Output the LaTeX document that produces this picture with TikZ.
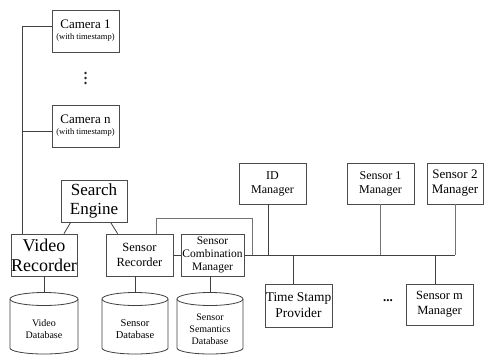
\documentclass[tikz,border=0pt]{standalone}
\usepackage{fontspec}
\setmainfont{Liberation Serif}
\usetikzlibrary{calc}
\tikzset{
  box/.style={draw=black!70, line width=0.8pt, fill=white, align=center,
              inner sep=0pt, minimum width=67pt, minimum height=42pt},
  wire/.style={draw=black!75, line width=0.8pt},
  faint/.style={draw=black!55, line width=0.8pt},
  dbtext/.style={align=center, inner sep=0pt},
  dotmark/.style={circle, fill=black!85, inner sep=0pt, minimum size=2.6pt},
}
% database drum: centre x, half width
\newcommand\dbdrum[2]{%
  \begin{scope}[shift={(#1,0)}]
    \filldraw[draw=black!75, fill=white, line width=0.8pt]
      (-#2,299) -- (-#2,348) arc[start angle=180, end angle=0, x radius=#2, y radius=6]
      -- (#2,299);
    \filldraw[draw=black!75, fill=white, line width=0.8pt]
      (0,299) ellipse[x radius=#2, y radius=6.5];
  \end{scope}}
\begin{document}
\begin{tikzpicture}[x=1pt, y=-1pt]
\useasboundingbox (0,0) rectangle (485,354);

% cameras
\node[box] (cam1) at (85.5,31)
  {{\fontsize{13}{14}\selectfont Camera 1}\\[-1pt]{\fontsize{8.5}{9}\selectfont (with timestamp)}};
\node[box] (camn) at (85.5,126)
  {{\fontsize{13}{14}\selectfont Camera n}\\[-1pt]{\fontsize{8.5}{9}\selectfont (with timestamp)}};
% vertical ellipsis between the cameras
\node[dotmark] (cd1) at (85.5,73) {};
\node[dotmark] (cd2) at (85.5,78) {};
\node[dotmark] (cd3) at (85.5,83) {};

% recorders and search
\node[box, minimum width=66pt, font=\fontsize{17}{19}\selectfont] (se) at (94,201) {Search\\Engine};
\node[box, minimum width=66pt, font=\fontsize{18}{20}\selectfont] (vr) at (44,255) {Video\\Recorder};
\node[box, font=\fontsize{12.5}{15}\selectfont] (sr) at (139.5,255) {Sensor\\Recorder};
\node[box, minimum width=63pt, font=\fontsize{11.5}{13}\selectfont] (scm) at (212.5,255) {Sensor\\Combination\\Manager};

% managers
\node[box, minimum height=41pt, font=\fontsize{12}{14}\selectfont] (idm) at (272.5,183.5) {ID\\Manager};
\node[box, minimum height=41pt, font=\fontsize{12}{14}\selectfont] (s1m) at (380.5,183.5) {Sensor 1\\Manager};
\node[box, minimum width=56pt, minimum height=41pt, font=\fontsize{13}{15}\selectfont] (s2m) at (455,183.5) {Sensor 2\\Manager};
\node[box, minimum height=43pt, font=\fontsize{13.4}{16}\selectfont] (tsp) at (298.5,305.5) {Time Stamp\\Provider};
\node[box, minimum height=41pt, font=\fontsize{12.5}{15}\selectfont] (smm) at (439.5,304.5) {Sensor m\\Manager};
\node[inner sep=0pt, font=\fontsize{13}{13}\selectfont\bfseries] (mdots) at (388,301) {...};

% camera feed line
\coordinate (l1) at (22.5,26);
\coordinate (ln) at (22.5,131);
\draw[wire] (vr.north -| l1) -- (l1) -- (l1 -| cam1.west);
\draw[wire] (ln) -- (ln -| camn.west);

% search engine links
\draw[wire] ($(se.south west)+(10,0)$) -- ($(vr.north)+(20,0)$);
\draw[wire] ($(se.south west)+(50,0)$) -- ($(sr.north west)+(12,0)$);

% recorder to combination manager and bus
\draw[wire] (sr.east) -- (scm.west);
\coordinate (busend) at (s2m.south |- scm.east);
\draw[wire] (scm.east) -- (busend);
\coordinate (loop) at (252,218);
\draw[faint] ($(sr.north east)+(-17,0)$) |- (loop) -- (loop |- scm.east);
\draw[wire] ([xshift=-4.5pt]idm.south) -- ([xshift=-4.5pt]idm.south |- busend);
\draw[faint] (s1m.south) -- (s1m.south |- busend);
\draw[faint] (s2m.south) -- (busend);
\draw[wire] ([xshift=-5.5pt]tsp.north) -- ([xshift=-5.5pt]tsp.north |- busend);
\draw[wire] ([xshift=-4.5pt]smm.north) -- ([xshift=-4.5pt]smm.north |- busend);

% databases
\coordinate (vdb) at (44,292.5);
\coordinate (sdb) at (135,292.5);
\coordinate (ssdb) at (210,292.5);
\draw[wire] (vr.south) -- (vdb);
\draw[wire] (sdb |- sr.south) -- (sdb);
\draw[wire] (ssdb |- scm.south) -- (ssdb);
\dbdrum{44}{34}
\dbdrum{135}{33}
\dbdrum{210}{33}
\node[dbtext, font=\fontsize{10}{12}\selectfont] (vdbt) at (44,329) {Video\\Database};
\node[dbtext, font=\fontsize{10.5}{12}\selectfont] (sdbt) at (135,329) {Sensor\\Database};
\node[dbtext, font=\fontsize{10}{12}\selectfont] (ssdbt) at (210,329) {Sensor\\Semantics\\Database};
\end{tikzpicture}
\end{document}
